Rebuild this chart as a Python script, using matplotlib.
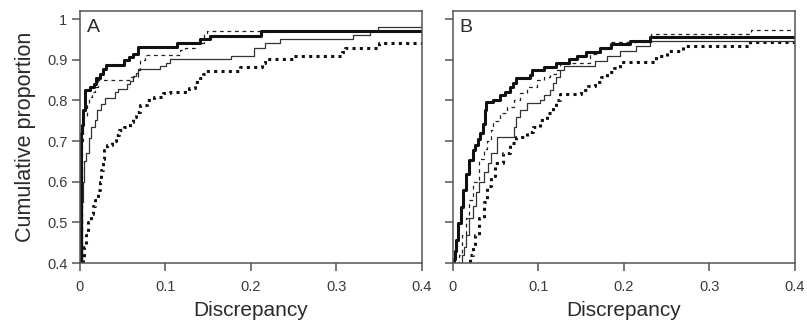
import matplotlib
matplotlib.use('Agg')
import matplotlib.pyplot as plt

plt.rcParams['font.family'] = ['Liberation Sans', 'DejaVu Sans']

# ========== Data (step positions) ==========

# Panel A
a_thick_x = [0.001, 0.002, 0.004, 0.006, 0.012, 0.016, 0.019, 0.023, 0.027, 0.031,
             0.051, 0.057, 0.062, 0.068, 0.113, 0.140, 0.152, 0.212]
a_thick_y = [0.72, 0.74, 0.776, 0.825, 0.833, 0.841, 0.854, 0.866, 0.878, 0.887,
             0.899, 0.907, 0.915, 0.932, 0.940, 0.951, 0.959, 0.971]

a_dash_x = [0.002, 0.004, 0.008, 0.010, 0.014, 0.018, 0.021, 0.060, 0.068, 0.070,
            0.076, 0.117, 0.123, 0.135, 0.145, 0.148]
a_dash_y = [0.70, 0.76, 0.792, 0.808, 0.82, 0.833, 0.849, 0.858, 0.874, 0.899,
            0.911, 0.923, 0.93, 0.94, 0.965, 0.971]

a_thin_x = [0.002, 0.003, 0.005, 0.007, 0.011, 0.013, 0.017, 0.020, 0.025, 0.029,
            0.041, 0.045, 0.055, 0.058, 0.062, 0.066, 0.068, 0.094, 0.101, 0.105,
            0.177, 0.203, 0.216, 0.234, 0.319, 0.339, 0.349]
a_thin_y = [0.55, 0.60, 0.65, 0.67, 0.707, 0.735, 0.752, 0.776, 0.792, 0.805,
            0.82, 0.828, 0.84, 0.848, 0.86, 0.868, 0.876, 0.884, 0.893, 0.902,
            0.91, 0.93, 0.94, 0.951, 0.961, 0.97, 0.98]

a_dot_x = [0.003, 0.005, 0.007, 0.009, 0.013, 0.015, 0.017, 0.021, 0.023, 0.025,
           0.027, 0.028, 0.032, 0.038, 0.042, 0.046, 0.052, 0.058, 0.062, 0.066,
           0.070, 0.078, 0.086, 0.097, 0.105, 0.128, 0.134, 0.140, 0.144, 0.147,
           0.187, 0.213, 0.216, 0.249, 0.306, 0.310, 0.350]
a_dot_y = [0.41, 0.44, 0.47, 0.50, 0.52, 0.54, 0.555, 0.58, 0.60, 0.63,
           0.655, 0.678, 0.69, 0.70, 0.715, 0.727, 0.735, 0.748, 0.76, 0.772,
           0.789, 0.80, 0.809, 0.817, 0.821, 0.83, 0.844, 0.855, 0.865, 0.873,
           0.881, 0.893, 0.902, 0.91, 0.92, 0.93, 0.94]

# Panel B
b_thick_x = [0.001, 0.002, 0.004, 0.006, 0.009, 0.012, 0.015, 0.019, 0.023, 0.026,
             0.029, 0.032, 0.035, 0.037, 0.039, 0.047, 0.055, 0.061, 0.067, 0.070,
             0.074, 0.090, 0.092, 0.106, 0.121, 0.136, 0.145, 0.156, 0.172, 0.185,
             0.207, 0.230]
b_thick_y = [0.41, 0.43, 0.457, 0.498, 0.539, 0.58, 0.62, 0.653, 0.678, 0.69,
             0.705, 0.719, 0.743, 0.776, 0.797, 0.80, 0.813, 0.82, 0.834, 0.842,
             0.854, 0.862, 0.875, 0.883, 0.891, 0.902, 0.91, 0.918, 0.93, 0.939,
             0.947, 0.955]

b_dash_x = [0.007, 0.011, 0.015, 0.019, 0.024, 0.030, 0.036, 0.040, 0.045, 0.047,
            0.055, 0.063, 0.071, 0.078, 0.086, 0.098, 0.106, 0.113, 0.121, 0.125,
            0.160, 0.172, 0.184, 0.232, 0.349]
b_dash_y = [0.42, 0.47, 0.51, 0.555, 0.60, 0.655, 0.68, 0.70, 0.727, 0.75,
            0.768, 0.784, 0.80, 0.817, 0.834, 0.85, 0.858, 0.866, 0.875, 0.891,
            0.914, 0.926, 0.943, 0.963, 0.974]

b_thin_x = [0.011, 0.013, 0.015, 0.019, 0.023, 0.027, 0.031, 0.036, 0.041, 0.045,
            0.051, 0.071, 0.074, 0.078, 0.086, 0.102, 0.106, 0.113, 0.117, 0.121,
            0.125, 0.130, 0.166, 0.180, 0.195, 0.214, 0.230]
b_thin_y = [0.42, 0.44, 0.47, 0.51, 0.54, 0.575, 0.60, 0.625, 0.645, 0.67,
            0.711, 0.735, 0.76, 0.776, 0.793, 0.80, 0.813, 0.825, 0.842, 0.858,
            0.875, 0.884, 0.897, 0.91, 0.922, 0.934, 0.947]

b_dot_x = [0.020, 0.023, 0.026, 0.030, 0.036, 0.040, 0.044, 0.049, 0.058, 0.067,
           0.074, 0.086, 0.094, 0.102, 0.110, 0.117, 0.121, 0.125, 0.150, 0.158,
           0.166, 0.173, 0.180, 0.188, 0.195, 0.238, 0.250, 0.269, 0.347]
b_dot_y = [0.42, 0.44, 0.47, 0.51, 0.55, 0.59, 0.615, 0.645, 0.67, 0.694,
           0.711, 0.723, 0.735, 0.752, 0.768, 0.784, 0.80, 0.815, 0.825, 0.835,
           0.844, 0.857, 0.869, 0.88, 0.894, 0.91, 0.922, 0.933, 0.943]

x_ticks = [0, 0.1, 0.2, 0.3, 0.4]
x_tick_labels = ['0', '0.1', '0.2', '0.3', '0.4']
y_ticks = [0.4, 0.5, 0.6, 0.7, 0.8, 0.9, 1.0]
y_tick_labels = ['0.4', '0.5', '0.6', '0.7', '0.8', '0.9', '1']

# ========== Styles ==========

AXIS_COLOR = '#555555'
TEXT_COLOR = '#2a2a2a'
STYLES = {
    'dot':   dict(color='#111111', lw=2.2, ls=(0, (1, 1.4)), dash_capstyle='butt'),
    'thin':  dict(color='#333333', lw=0.9, ls='-'),
    'dash':  dict(color='#222222', lw=0.9, ls=(0, (3, 3))),
    'thick': dict(color='#111111', lw=2.2, ls='-'),
}


def draw_ecdf(ax, xs, ys, style):
    """Draw one cumulative step curve, running off the bottom and to the right edge."""
    x = [0.0] + list(xs) + [0.4]
    y = [0.3] + list(ys) + [ys[-1]]
    ax.step(x, y, where='post', **STYLES[style])


def style_panel(ax, letter, show_ylabels):
    ax.set_xlim(0, 0.4)
    ax.set_ylim(0.4, 1.0197)
    ax.set_xticks(x_ticks)
    ax.set_xticklabels(x_tick_labels)
    ax.set_yticks(y_ticks)
    if show_ylabels:
        ax.set_yticklabels(y_tick_labels)
    else:
        ax.set_yticklabels([])
    for sp in ax.spines.values():
        sp.set_color(AXIS_COLOR)
        sp.set_linewidth(1.1)
    ax.tick_params(direction='out', length=6, width=1.1, color=AXIS_COLOR,
                   labelcolor='#3a3a3a', labelsize=10.5)
    ax.tick_params(axis='x', pad=6)
    ax.tick_params(axis='y', pad=3)
    ax.set_xlabel('Discrepancy', fontsize=15, color=TEXT_COLOR, labelpad=5)
    ax.text(0.02, 0.968, letter, transform=ax.transAxes, fontsize=14,
            va='top', ha='left', color=TEXT_COLOR)


fig = plt.figure(figsize=(8.07, 3.24), dpi=100)
ax_a = fig.add_axes([0.0991, 0.188, 0.4238, 0.778])
ax_b = fig.add_axes([0.5613, 0.188, 0.4238, 0.778])

draw_ecdf(ax_a, a_dot_x, a_dot_y, 'dot')
draw_ecdf(ax_a, a_thin_x, a_thin_y, 'thin')
draw_ecdf(ax_a, a_dash_x, a_dash_y, 'dash')
draw_ecdf(ax_a, a_thick_x, a_thick_y, 'thick')

draw_ecdf(ax_b, b_dot_x, b_dot_y, 'dot')
draw_ecdf(ax_b, b_thin_x, b_thin_y, 'thin')
draw_ecdf(ax_b, b_dash_x, b_dash_y, 'dash')
draw_ecdf(ax_b, b_thick_x, b_thick_y, 'thick')

style_panel(ax_a, 'A', True)
style_panel(ax_b, 'B', False)
ax_a.set_ylabel('Cumulative proportion', fontsize=15.5, color=TEXT_COLOR, labelpad=8)

fig.savefig('out.png', dpi=100)
